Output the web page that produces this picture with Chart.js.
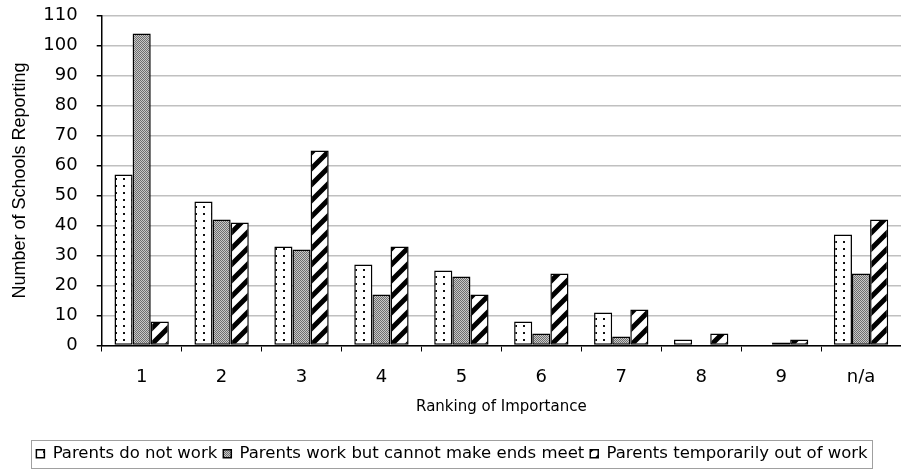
<!DOCTYPE html>
<html>
<head>
<meta charset="utf-8">
<script src="https://cdn.jsdelivr.net/npm/chart.js@4.4.1/dist/chart.umd.min.js"></script>
<style>
  html, body { margin: 0; padding: 0; background: #fff; }
  #wrap { width: 901px; height: 472px; }
</style>
</head>
<body>
<div id="wrap"><canvas id="rank-bars" width="901" height="472"></canvas></div>
<script>
// ranking categories and the number of schools per reason
var rankLabels = ['1', '2', '3', '4', '5', '6', '7', '8', '9', 'n/a'];
var notWork = [57, 48, 33, 27, 25, 8, 11, 2, 0, 37];
var cannotMeet = [104, 42, 32, 17, 23, 4, 3, 0, 1, 24];
var outOfWork = [8, 41, 65, 33, 17, 24, 12, 4, 2, 42];
var seriesNames = ['Parents do not work', 'Parents work but cannot make ends meet', 'Parents temporarily out of work'];

// small tiles used as fill patterns for the bars
function makeTile(w, h, draw) {
  var c = document.createElement('canvas');
  c.width = w; c.height = h;
  var g = c.getContext('2d');
  g.fillStyle = '#fff';
  g.fillRect(0, 0, w, h);
  draw(g, w, h);
  return document.getElementById('rank-bars').getContext('2d').createPattern(c, 'repeat');
}

var dotFill = makeTile(8, 7, function (g) {
  g.fillStyle = '#111';
  g.fillRect(3, 3, 2, 2);
});

var greyFill = makeTile(2, 2, function (g) {
  g.fillStyle = '#c8c8c8';
  g.fillRect(0, 0, 2, 2);
  g.fillStyle = '#6e6e6e';
  g.fillRect(0, 0, 1, 1);
  g.fillRect(1, 1, 1, 1);
});

var stripeFill = makeTile(16, 16, function (g, w, h) {
  g.strokeStyle = '#000';
  g.lineWidth = 5;
  g.beginPath();
  g.moveTo(-4, h + 4); g.lineTo(w + 4, -4);
  g.moveTo(-4, 4); g.lineTo(4, -4);
  g.moveTo(w - 4, h + 4); g.lineTo(w + 4, h - 4);
  g.stroke();
});

// grey frame round the legend items
var legendFrame = {
  id: 'legendFrame',
  afterDraw: function (chart) {
    var boxes = chart.legend.legendHitBoxes;
    if (!boxes || !boxes.length) return;
    var l = Infinity, r = -Infinity, t = Infinity, b = -Infinity;
    boxes.forEach(function (h) {
      l = Math.min(l, h.left); r = Math.max(r, h.left + h.width);
      t = Math.min(t, h.top); b = Math.max(b, h.top + h.height);
    });
    var ctx = chart.ctx;
    ctx.save();
    ctx.strokeStyle = '#a0a0a0';
    ctx.lineWidth = 1;
    ctx.strokeRect(Math.round(l - 5) + 0.5, Math.round(t - 6) + 0.5, Math.round(r - l + 10), Math.round(b - t + 11));
    ctx.restore();
  }
};

Chart.defaults.font.family = '"DejaVu Sans", Verdana, sans-serif';
Chart.defaults.color = '#000';

var ctx = document.getElementById('rank-bars');
var myChart = new Chart(ctx, {
  type: 'bar',
  data: {
    labels: rankLabels,
    datasets: [{
      label: seriesNames[0],
      data: notWork,
      backgroundColor: dotFill,
      borderColor: '#000',
      borderWidth: 1.5,
      borderSkipped: false
    }, {
      label: seriesNames[1],
      data: cannotMeet,
      backgroundColor: greyFill,
      borderColor: '#000',
      borderWidth: 1.5,
      borderSkipped: false
    }, {
      label: seriesNames[2],
      data: outOfWork,
      backgroundColor: stripeFill,
      borderColor: '#000',
      borderWidth: 1.5,
      borderSkipped: false
    }]
  },
  options: {
    responsive: false,
    animation: false,
    layout: { padding: { top: 0, right: -3, left: 0, bottom: 0 } },
    datasets: { bar: { categoryPercentage: 0.68, barPercentage: 1.0 } },
    plugins: {
      tooltip: { enabled: false },
      legend: {
        position: 'bottom',
        labels: {
          boxWidth: 8,
          boxHeight: 8,
          padding: 6,
          font: { size: 16.5 }
        }
      }
    },
    scales: {
      x: {
        grid: { drawOnChartArea: false, drawTicks: true, tickLength: 6, tickColor: '#000', offset: true },
        border: { color: '#000', width: 1.5 },
        ticks: { padding: 15, font: { size: 18 } },
        title: { display: true, text: 'Ranking of Importance', font: { size: 15 }, padding: { top: 10, bottom: 23 } },
        // height of the band under the plot, down to the legend
        afterFit: function (axis) {
          axis.height = 94;
        }
      },
      y: {
        min: 0,
        max: 110,
        ticks: { stepSize: 10, padding: 19, font: { size: 18 } },
        grid: { color: '#c0c0c0', lineWidth: 1.5, tickColor: '#000', tickLength: 5 },
        border: { color: '#000', width: 1.5 },
        title: {
          display: true,
          text: 'Number of Schools Reporting',
          font: { family: '"Liberation Sans", Arial, sans-serif', size: 18 },
          padding: { top: 9, bottom: 12 }
        },
        // fixed axis width and top room so the plot starts where the frame expects
        afterFit: function (axis) {
          axis.width = 101.7;
          axis.paddingTop = 15.5;
          axis.paddingBottom = 11;
        }
      }
    }
  },
  plugins: [legendFrame]
});
</script>
</body>
</html>
